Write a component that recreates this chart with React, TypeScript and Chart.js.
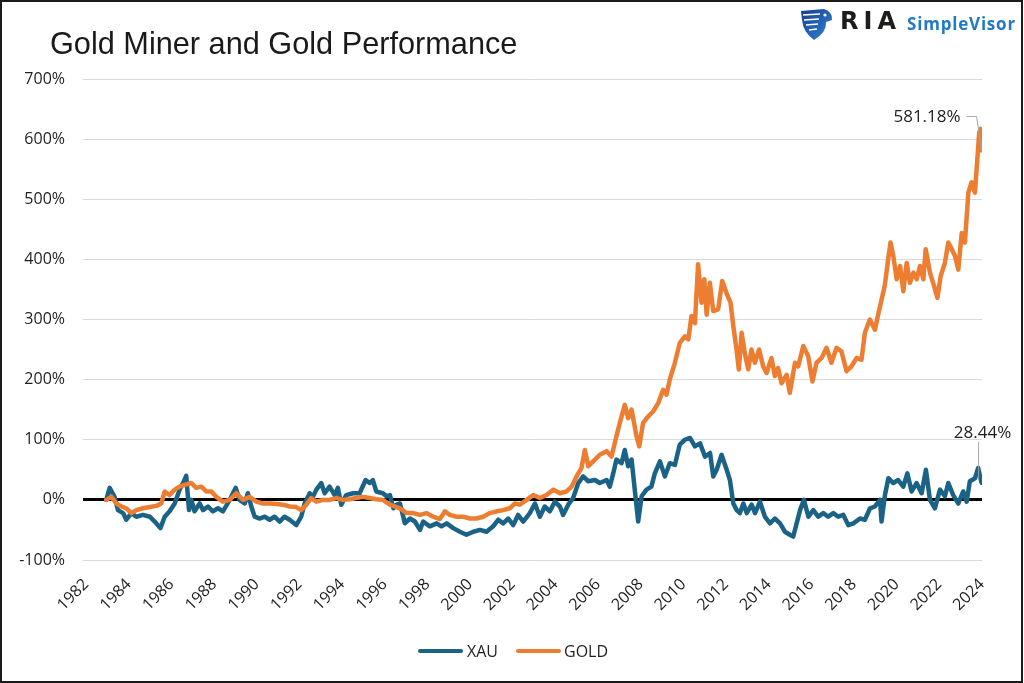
import React, { useEffect, useRef } from "react";
import { Chart, registerables } from "chart.js";

Chart.register(...registerables);

// ---- Data (axis years, % performance) ----
const xauDates = [
  1982.94, 1983.1, 1983.33, 1983.49, 1983.73, 1983.88, 1984.12, 1984.35, 1984.66, 1984.98,
  1985.21, 1985.48, 1985.68, 1985.91, 1986.15, 1986.38, 1986.54, 1986.69, 1986.82, 1986.93,
  1987.08, 1987.32, 1987.48, 1987.71, 1987.94, 1988.18, 1988.41, 1988.73, 1989.01, 1989.19,
  1989.43, 1989.58, 1989.74, 1989.9, 1990.13, 1990.37, 1990.6, 1990.83, 1991.07, 1991.3,
  1991.54, 1991.85, 1992.08, 1992.24, 1992.48, 1992.63, 1992.79, 1993.02, 1993.18, 1993.41,
  1993.65, 1993.8, 1993.96, 1994.19, 1994.51, 1994.82, 1995.1, 1995.29, 1995.44, 1995.6,
  1995.91, 1996.08, 1996.24, 1996.4, 1996.55, 1996.71, 1996.79, 1996.94, 1997.18, 1997.41,
  1997.65, 1997.8, 1998.11, 1998.43, 1998.66, 1998.9, 1999.21, 1999.52, 1999.83, 2000.15,
  2000.46, 2000.77, 2001.08, 2001.32, 2001.55, 2001.79, 2002.02, 2002.25, 2002.49, 2002.8,
  2003.04, 2003.27, 2003.5, 2003.74, 2003.97, 2004.21, 2004.36, 2004.6, 2004.83, 2005.07,
  2005.3, 2005.54, 2005.85, 2006.08, 2006.4, 2006.55, 2006.71, 2006.86, 2007.1, 2007.25,
  2007.41, 2007.57, 2007.72, 2007.88, 2008.04, 2008.27, 2008.5, 2008.66, 2008.9, 2009.13,
  2009.36, 2009.6, 2009.83, 2010.07, 2010.31, 2010.54, 2010.78, 2011.01, 2011.25, 2011.4,
  2011.56, 2011.79, 2012.03, 2012.18, 2012.34, 2012.5, 2012.65, 2012.81, 2012.97, 2013.2,
  2013.36, 2013.59, 2013.82, 2014.06, 2014.29, 2014.53, 2014.76, 2014.99, 2015.15, 2015.31,
  2015.47, 2015.65, 2015.86, 2016.09, 2016.32, 2016.56, 2016.79, 2017.03, 2017.26, 2017.5,
  2017.73, 2017.97, 2018.28, 2018.51, 2018.75, 2018.98, 2019.22, 2019.29, 2019.45, 2019.61,
  2019.84, 2020.07, 2020.31, 2020.5, 2020.7, 2020.93, 2021.17, 2021.37, 2021.56, 2021.79,
  2022.03, 2022.26, 2022.42, 2022.65, 2022.89, 2023.12, 2023.28, 2023.43, 2023.67, 2023.82,
  2023.98,
];
const xauValues = [
  0, 20, 5, -17, -22, -33, -22, -28, -25, -28,
  -36, -47, -28, -19, -6, 17, 28, 40, -17, 0,
  -19, -6, -17, -11, -19, -14, -19, 0, 20, 0,
  -6, 11, -11, -28, -31, -28, -33, -28, -36, -28,
  -33, -42, -28, -6, 11, 5, 17, 28, 11, 22,
  8, 20, -8, 8, 11, 11, 33, 28, 33, 14,
  11, 6, 8, -14, -8, -6, -17, -39, -31, -36,
  -50, -36, -44, -39, -44, -39, -47, -53, -58, -53,
  -50, -53, -44, -33, -39, -31, -42, -25, -36, -22,
  -6, -28, -11, -19, -3, -11, -25, -8, 3, 28,
  39, 31, 33, 28, 33, 22, 44, 67, 61, 83,
  56, 67, 17, -36, 6, 17, 22, 44, 64, 39,
  61, 58, 92, 100, 103, 89, 94, 72, 78, 39,
  50, 75, 50, 33, -6, -17, -22, -6, -22, -8,
  -22, -3, -28, -39, -31, -39, -53, -58, -61, -39,
  -17, 0, -28, -17, -28, -22, -28, -22, -28, -25,
  -42, -39, -31, -33, -14, -11, 0, -36, 8, 36,
  28, 33, 22, 44, 14, 28, 11, 50, 0, -14,
  17, 6, 28, 8, -6, 14, -3, 31, 36, 53,
  28.44,
];

const goldDates = [
  1982.94, 1983.18, 1983.41, 1983.65, 1983.88, 1984.12, 1984.35, 1984.66, 1984.98, 1985.29,
  1985.52, 1985.68, 1985.91, 1986.15, 1986.38, 1986.62, 1986.93, 1987.16, 1987.4, 1987.63,
  1987.87, 1988.1, 1988.41, 1988.73, 1989.04, 1989.35, 1989.66, 1989.98, 1990.29, 1990.6,
  1990.91, 1991.23, 1991.54, 1991.85, 1992.08, 1992.32, 1992.55, 1992.79, 1993.1, 1993.41,
  1993.73, 1994.04, 1994.35, 1994.66, 1994.98, 1995.29, 1995.6, 1995.91, 1996.24, 1996.71,
  1997.02, 1997.33, 1997.65, 1997.96, 1998.27, 1998.58, 1998.82, 1999.05, 1999.36, 1999.68,
  1999.99, 2000.3, 2000.61, 2000.93, 2001.24, 2001.55, 2001.86, 2002.1, 2002.33, 2002.65,
  2002.96, 2003.27, 2003.58, 2003.9, 2004.21, 2004.52, 2004.76, 2004.99, 2005.22, 2005.38,
  2005.54, 2005.77, 2006.08, 2006.4, 2006.63, 2006.86, 2007.02, 2007.25, 2007.41, 2007.57,
  2007.8, 2007.93, 2008.11, 2008.35, 2008.58, 2008.82, 2009.05, 2009.21, 2009.36, 2009.6,
  2009.83, 2010.07, 2010.23, 2010.38, 2010.54, 2010.69, 2010.85, 2010.98, 2011.09, 2011.24,
  2011.4, 2011.63, 2011.82, 2012.02, 2012.21, 2012.34, 2012.49, 2012.6, 2012.73, 2012.88,
  2013.04, 2013.19, 2013.35, 2013.55, 2013.74, 2013.9, 2014.13, 2014.29, 2014.44, 2014.6,
  2014.84, 2014.99, 2015.23, 2015.38, 2015.62, 2015.85, 2016.05, 2016.24, 2016.48, 2016.71,
  2016.94, 2017.18, 2017.41, 2017.65, 2017.88, 2018.12, 2018.35, 2018.51, 2018.74, 2018.98,
  2019.13, 2019.29, 2019.44, 2019.6, 2019.71, 2019.84, 2020.0, 2020.16, 2020.31, 2020.47,
  2020.62, 2020.78, 2020.94, 2021.09, 2021.25, 2021.36, 2021.56, 2021.75, 2021.91, 2022.06,
  2022.26, 2022.42, 2022.58, 2022.73, 2022.89, 2023.05, 2023.2, 2023.36, 2023.51, 2023.67,
  2023.77, 2023.87, 2023.93, 2023.98,
];
const goldValues = [
  0, 5, -6, -11, -14, -22, -17, -14, -12, -10,
  -6, 14, 8, 17, 22, 25, 28, 20, 22, 14,
  14, 5, -3, 0, 11, 0, 5, -3, -6, -6,
  -7, -8, -11, -12, -17, -8, 3, -3, 0, 0,
  3, 0, 1, 3, 5, 3, 1, 0, -8, -14,
  -22, -22, -25, -22, -28, -32, -19, -25, -28, -28,
  -31, -31, -28, -22, -19, -17, -14, -6, -8, 0,
  8, 3, 8, 17, 11, 14, 22, 39, 53, 83,
  56, 64, 75, 81, 72, 106, 128, 158, 136, 150,
  106, 89, 128, 139, 147, 161, 183, 175, 200, 228,
  261, 272, 267, 306, 294, 392, 328, 367, 308, 361,
  314, 317, 364, 344, 328, 289, 250, 217, 278, 244,
  217, 250, 228, 250, 222, 211, 236, 206, 219, 194,
  208, 178, 228, 222, 256, 239, 197, 228, 236, 253,
  228, 253, 247, 214, 222, 236, 233, 278, 300, 283,
  308, 333, 356, 400, 428, 406, 367, 389, 347, 394,
  361, 378, 367, 389, 367, 417, 378, 356, 336, 372,
  394, 428, 417, 406, 383, 444, 428, 511, 528, 511,
  561, 611, 617, 581.18,
];

const yearTicks = [
  1982, 1984, 1986, 1988, 1990, 1992, 1994, 1996, 1998, 2000, 2002,
  2004, 2006, 2008, 2010, 2012, 2014, 2016, 2018, 2020, 2022, 2024,
];
const seriesNames = ["XAU", "GOLD"];

const XAU_COLOR = "#1b6386";
const GOLD_COLOR = "#ed7d31";
const TEXT_COLOR = "#1f1f1f";
const FONT = '"Open Sans", "Noto Sans", sans-serif';

const annotationPlugin = {
  id: "endLabels",
  afterDatasetsDraw(chart: any) {
    const { ctx, scales } = chart;
    const xs = scales.x;
    const ys = scales.y;
    ctx.save();
    ctx.strokeStyle = "#a6a6a6";
    ctx.lineWidth = 1;
    ctx.fillStyle = TEXT_COLOR;
    ctx.font = `17px ${FONT}`;

    // GOLD end label
    const gi = goldValues.length - 1;
    const gx = xs.getPixelForValue(goldDates[gi]);
    const gy = ys.getPixelForValue(goldValues[gi]);
    ctx.beginPath();
    ctx.moveTo(gx - 15, gy - 34);
    ctx.lineTo(gx - 5, gy - 34);
    ctx.lineTo(gx, gy);
    ctx.stroke();
    ctx.textAlign = "right";
    ctx.textBaseline = "middle";
    ctx.fillText(goldValues[gi].toFixed(2) + "%", gx - 21, gy - 33);

    // XAU end label
    const xi = xauValues.length - 1;
    const xx = xs.getPixelForValue(xauDates[xi]);
    const xy = ys.getPixelForValue(xauValues[xi]);
    ctx.beginPath();
    ctx.moveTo(xx - 3, xy - 41);
    ctx.lineTo(xx - 3, xy - 5);
    ctx.stroke();
    ctx.textAlign = "center";
    ctx.fillText(xauValues[xi].toFixed(2) + "%", xx + 1, xy - 50);
    ctx.restore();
  },
};

export default function App() {
  const canvasRef = useRef<HTMLCanvasElement | null>(null);

  useEffect(() => {
    const canvas = canvasRef.current;
    if (!canvas) return;
    const chart = new Chart(canvas, {
      type: "line",
      data: {
        datasets: [
          {
            label: seriesNames[0],
            data: xauDates.map((d, i) => ({ x: d, y: xauValues[i] })),
            borderColor: XAU_COLOR,
            backgroundColor: XAU_COLOR,
            borderWidth: 4.5,
            pointRadius: 0,
            tension: 0,
            borderJoinStyle: "round",
            borderCapStyle: "round",
            order: 1,
          },
          {
            label: seriesNames[1],
            data: goldDates.map((d, i) => ({ x: d, y: goldValues[i] })),
            borderColor: GOLD_COLOR,
            backgroundColor: GOLD_COLOR,
            borderWidth: 4.5,
            pointRadius: 0,
            tension: 0,
            borderJoinStyle: "round",
            borderCapStyle: "round",
            order: 0,
          },
        ],
      },
      options: {
        responsive: false,
        animation: false,
        layout: { padding: { left: 0, right: 42, top: 79, bottom: 0 } },
        plugins: {
          legend: { display: false },
          title: { display: false },
          tooltip: { enabled: false },
        },
        scales: {
          x: {
            type: "linear",
            min: 1981.85,
            max: 2024,
            afterBuildTicks: (scale: any) => {
              scale.ticks = yearTicks.map((v) => ({ value: v }));
            },
            afterFit: (scale: any) => {
              scale.height = 123;
            },
            grid: { display: false, drawTicks: false },
            border: { display: false },
            ticks: {
              autoSkip: false,
              minRotation: 45,
              maxRotation: 45,
              padding: 15,
              color: TEXT_COLOR,
              font: { family: FONT, size: 16 },
              callback: (v: any) => String(v),
            },
          },
          y: {
            min: -100,
            max: 700,
            afterFit: (scale: any) => {
              scale.width = 83;
            },
            grid: {
              drawTicks: false,
              color: (c: any) => (c.tick && c.tick.value === 0 ? "#000000" : "#d9d9d9"),
              lineWidth: (c: any) => (c.tick && c.tick.value === 0 ? 3 : 1),
            },
            border: { display: false },
            ticks: {
              stepSize: 100,
              padding: 18,
              color: TEXT_COLOR,
              font: { family: FONT, size: 16 },
              callback: (v: any) => v + "%",
            },
          },
        },
      },
      plugins: [annotationPlugin],
    } as any);
    return () => chart.destroy();
  }, []);

  return (
    <div
      style={{
        position: "absolute",
        left: 0,
        top: 0,
        width: 1024,
        height: 683,
        background: "#ffffff",
        overflow: "hidden",
      }}
    >
      <canvas
        ref={canvasRef}
        width={1024}
        height={683}
        style={{ position: "absolute", left: 0, top: 0, width: 1024, height: 683 }}
      />
      <div
        style={{
          position: "absolute",
          left: 50,
          top: 28,
          fontFamily: '"Liberation Sans", Arial, sans-serif',
          fontSize: 30.7,
          lineHeight: "31px",
          color: "#1a1a1a",
          whiteSpace: "nowrap",
        }}
      >
        Gold Miner and Gold Performance
      </div>
      {/* Logo */}
      <svg
        style={{ position: "absolute", left: 800, top: 8 }}
        width={34}
        height={33}
        viewBox="0 0 34 33"
      >
        <defs>
          <linearGradient id="lg" x1="0" y1="0" x2="1" y2="1">
            <stop offset="0" stopColor="#1a3c8f" />
            <stop offset="1" stopColor="#2f86d6" />
          </linearGradient>
        </defs>
        <path d="M1 3 L24 1 Q33 4 32 12 L26 14 Q27 24 14 32 Q3 24 2 12 Z" fill="url(#lg)" />
        <path d="M3 7 L20 6" stroke="#fff" strokeWidth={1.6} />
        <path d="M4 12 L19 11" stroke="#fff" strokeWidth={1.6} />
        <path d="M6 17 L18 16" stroke="#fff" strokeWidth={1.6} />
        <path d="M9 22 L17 21" stroke="#fff" strokeWidth={1.6} />
        <circle cx={25} cy={7} r={1.6} fill="#fff" />
      </svg>
      <div
        style={{
          position: "absolute",
          left: 840,
          top: 9,
          fontFamily: '"DejaVu Sans", sans-serif',
          fontWeight: 700,
          fontSize: 24,
          lineHeight: "24px",
          letterSpacing: 5,
          color: "#1d1d1b",
        }}
      >
        RIA
      </div>
      <div
        style={{
          position: "absolute",
          left: 907,
          top: 15,
          fontFamily: FONT,
          fontWeight: 700,
          fontSize: 17,
          lineHeight: "17px",
          letterSpacing: 0.8,
          color: "#2179c7",
        }}
      >
        SimpleVisor
      </div>
      {/* Legend */}
      <div
        style={{
          position: "absolute",
          left: 418,
          top: 640,
          height: 22,
          display: "flex",
          alignItems: "center",
          fontFamily: FONT,
          fontSize: 16,
          lineHeight: "22px",
          color: TEXT_COLOR,
          whiteSpace: "nowrap",
        }}
      >
        <span style={{ display: "inline-block", width: 45, height: 4, borderRadius: 2, background: XAU_COLOR }} />
        <span style={{ marginLeft: 4 }}>{seriesNames[0]}</span>
        <span
          style={{ display: "inline-block", width: 45, height: 4, borderRadius: 2, background: GOLD_COLOR, marginLeft: 18 }}
        />
        <span style={{ marginLeft: 3 }}>{seriesNames[1]}</span>
      </div>
      <div
        style={{
          position: "absolute",
          left: 0,
          top: 0,
          width: 1023,
          height: 683,
          boxSizing: "border-box",
          border: "2px solid #1a1a1a",
          pointerEvents: "none",
        }}
      />
    </div>
  );
}
